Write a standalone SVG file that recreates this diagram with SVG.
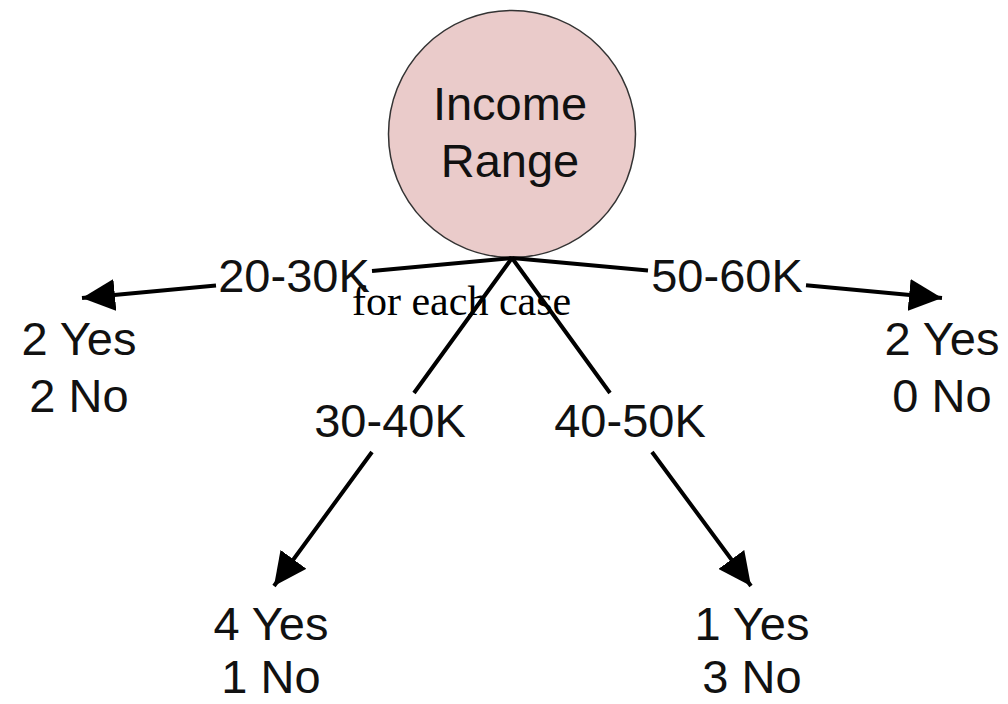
<svg xmlns="http://www.w3.org/2000/svg" width="1008" height="704" viewBox="0 0 1008 704">
<style>
.t{font-family:"Liberation Sans",Arial,sans-serif;font-size:47px;fill:#111;text-anchor:middle}
.c{fill:none;stroke:#000;stroke-width:4}
.note{font-family:"Liberation Serif","Times New Roman",serif;font-size:42px;fill:#000}
</style>
<defs>
<marker id="ah" markerUnits="userSpaceOnUse" markerWidth="34" markerHeight="32" viewBox="0 0 34 32" refX="33" refY="16" orient="auto">
<path d="M0,0 L33,16 L0,32 Z" fill="#000"/>
</marker>
</defs>
<rect width="1008" height="704" fill="#fff"/>
<text class="note" x="352" y="315">for each case</text>
<g id="root">
<circle cx="512" cy="134" r="123.5" fill="#eacbca" stroke="#333" stroke-width="1.5"/>
<text class="t" x="510" y="120">Income</text>
<text class="t" x="510" y="177">Range</text>
</g>
<g id="connectors">
<path class="c" d="M512,258 L372,271 M216,285.5 L82,298" marker-end="url(#ah)"/>
<path class="c" d="M512,258 L648,270.6 M806,285.3 L942,298" marker-end="url(#ah)"/>
<path class="c" d="M512,258 L414,393 M372,452 L274,586" marker-end="url(#ah)"/>
<path class="c" d="M512,258 L610,393 M652,452 L751,586" marker-end="url(#ah)"/>
</g>
<g id="labels">
<text class="t" x="294" y="292">20-30K</text>
<text class="t" x="727" y="292">50-60K</text>
<text class="t" x="390" y="437">30-40K</text>
<text class="t" x="630" y="437">40-50K</text>
</g>
<g id="leaf-20-30K">
<text class="t" x="79" y="355">2 Yes</text>
<text class="t" x="79" y="412">2 No</text>
</g>
<g id="leaf-50-60K">
<text class="t" x="942" y="355">2 Yes</text>
<text class="t" x="942" y="412">0 No</text>
</g>
<g id="leaf-30-40K">
<text class="t" x="271" y="640">4 Yes</text>
<text class="t" x="271" y="693">1 No</text>
</g>
<g id="leaf-40-50K">
<text class="t" x="752" y="640">1 Yes</text>
<text class="t" x="752" y="693">3 No</text>
</g>
</svg>
